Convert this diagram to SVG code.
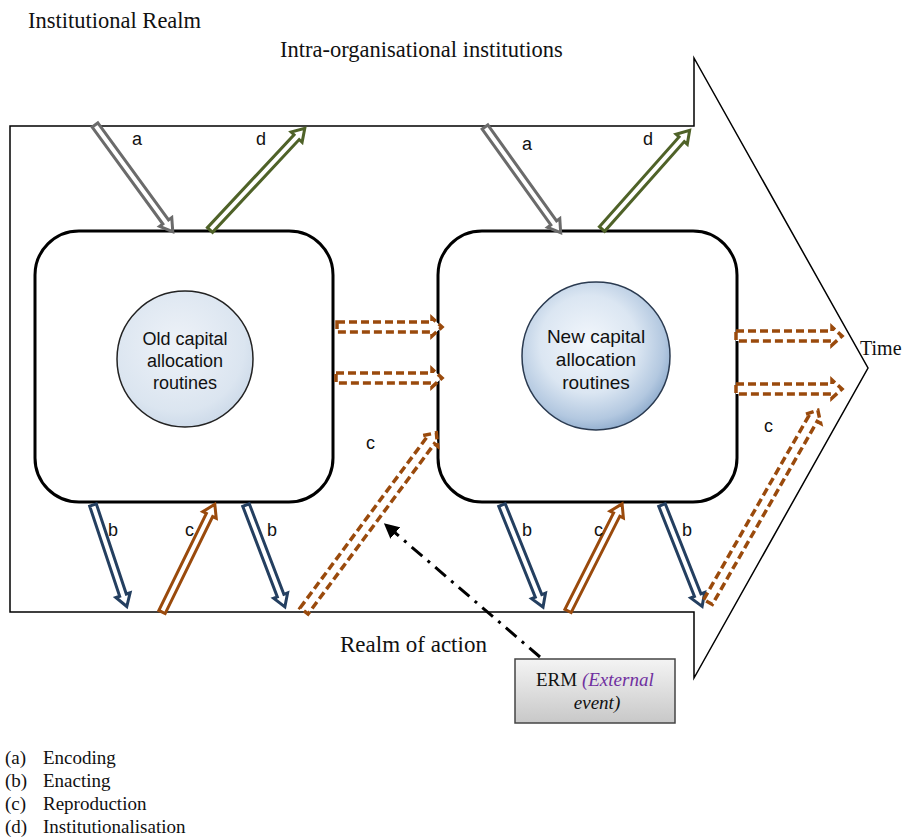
<svg xmlns="http://www.w3.org/2000/svg" width="902" height="837" viewBox="0 0 902 837">
<defs>
<style>
.serif{font-family:"Liberation Serif","Times New Roman",serif;fill:#111}
.sans{font-family:"Liberation Sans",Arial,sans-serif;fill:#111}
.lbl{font-family:"Liberation Sans",Arial,sans-serif;font-size:18px;fill:#111}
.box{fill:#fff;stroke:#000;stroke-width:3}
.ga{fill:#fff;stroke:#6b6b6b;stroke-width:3;stroke-linejoin:miter}
.gd{fill:#fff;stroke:#4f6228;stroke-width:3;stroke-linejoin:miter}
.gb{fill:#fff;stroke:#243f60;stroke-width:3;stroke-linejoin:miter}
.gc{fill:#fff;stroke:#9a4a0c;stroke-width:3;stroke-linejoin:miter}
.dc{fill:#fff;stroke:#9a4a0c;stroke-width:3.5;stroke-dasharray:8 4;stroke-linejoin:miter}
</style>
<radialGradient id="g1" cx="0.45" cy="0.4" r="0.65">
<stop offset="0" stop-color="#eef2f8"/>
<stop offset="0.75" stop-color="#dbe5f0"/>
<stop offset="1" stop-color="#c9d7e7"/>
</radialGradient>
<radialGradient id="g2" cx="0.45" cy="0.42" r="0.6">
<stop offset="0" stop-color="#f3f7fc"/>
<stop offset="0.55" stop-color="#dbe6f2"/>
<stop offset="0.85" stop-color="#b3c8e0"/>
<stop offset="1" stop-color="#8faccd"/>
</radialGradient>
<linearGradient id="g3" x1="0" y1="0" x2="0" y2="1">
<stop offset="0" stop-color="#f4f4f4"/>
<stop offset="1" stop-color="#c8c8c8"/>
</linearGradient>
<marker id="ah" viewBox="0 0 10 10" refX="2" refY="5" markerWidth="5" markerHeight="5" orient="auto">
<path d="M0,0 L10,5 L0,10 Z" fill="#000"/>
</marker>
</defs>

<g id="time-arrow">
<polygon points="10,126 694,126 694,58 868,368 694,678 694,612 10,612" fill="#fff" stroke="#000" stroke-width="1.5"/>
</g>

<g id="titles">
<text class="serif" x="28" y="28" font-size="22.5">Institutional Realm</text>
<text class="serif" x="280" y="57" font-size="22.5">Intra-organisational institutions</text>
<text class="serif" x="340" y="652" font-size="23">Realm of action</text>
<text class="serif" x="860" y="355" font-size="20">Time</text>
</g>

<g id="box-old">
<rect class="box" x="35" y="231" width="298" height="271" rx="44" ry="44"/>
<circle cx="185" cy="359" r="68" fill="url(#g1)" stroke="#222" stroke-width="1.5"/>
<text class="sans" font-size="18" text-anchor="middle"><tspan x="185" y="345">Old capital</tspan><tspan x="185" y="367">allocation</tspan><tspan x="185" y="389">routines</tspan></text>
</g>

<g id="box-new">
<rect class="box" x="438" y="231" width="299" height="271" rx="44" ry="44"/>
<circle cx="596" cy="356" r="74" fill="url(#g2)" stroke="#2a3a50" stroke-width="1.5"/>
<text class="sans" font-size="19" text-anchor="middle"><tspan x="596" y="343">New capital</tspan><tspan x="596" y="366">allocation</tspan><tspan x="596" y="389">routines</tspan></text>
</g>

<g id="erm">
<rect x="515" y="659" width="160" height="64" fill="url(#g3)" stroke="#444" stroke-width="1.5"/>
<text class="serif" font-size="19" x="536" y="686">ERM <tspan font-style="italic" fill="#7030a0">(External</tspan></text>
<text class="serif" font-size="19" x="597" y="709" text-anchor="middle" font-style="italic" fill="#7030a0">event)</text>
</g>

<g id="connectors">
<!-- a (encoding) -->
<path class="ga" transform="translate(95,125) rotate(53.9)" d="M0,-3.5 L120,-3.5 L120,-7.5 L132,0 L120,7.5 L120,3.5 L0,3.5 Z"/>
<path class="ga" transform="translate(485,127) rotate(54.4)" d="M0,-3.5 L118,-3.5 L118,-7.5 L130,0 L118,7.5 L118,3.5 L0,3.5 Z"/>
<!-- d (institutionalisation) -->
<path class="gd" transform="translate(210,230) rotate(-47)" d="M0,-3.5 L127,-3.5 L127,-7.5 L139,0 L127,7.5 L127,3.5 L0,3.5 Z"/>
<path class="gd" transform="translate(602,229) rotate(-48.4)" d="M0,-3.5 L120,-3.5 L120,-7.5 L132,0 L120,7.5 L120,3.5 L0,3.5 Z"/>
<!-- b (enacting) -->
<path class="gb" transform="translate(93,505) rotate(71.6)" d="M0,-3.5 L95,-3.5 L95,-7.5 L107,0 L95,7.5 L95,3.5 L0,3.5 Z"/>
<path class="gb" transform="translate(246,505) rotate(69.1)" d="M0,-3.5 L97,-3.5 L97,-7.5 L109,0 L97,7.5 L97,3.5 L0,3.5 Z"/>
<path class="gb" transform="translate(502,505) rotate(68.1)" d="M0,-3.5 L98,-3.5 L98,-7.5 L110,0 L98,7.5 L98,3.5 L0,3.5 Z"/>
<path class="gb" transform="translate(662,505) rotate(68.4)" d="M0,-3.5 L97,-3.5 L97,-7.5 L109,0 L97,7.5 L97,3.5 L0,3.5 Z"/>
<!-- c (reproduction) solid -->
<path class="gc" transform="translate(162,612) rotate(-63.9)" d="M0,-3.5 L108,-3.5 L108,-7.5 L120,0 L108,7.5 L108,3.5 L0,3.5 Z"/>
<path class="gc" transform="translate(568,611) rotate(-63.2)" d="M0,-3.5 L108,-3.5 L108,-7.5 L120,0 L108,7.5 L108,3.5 L0,3.5 Z"/>
<!-- c dashed -->
<path class="dc" transform="translate(337,327)" d="M0,-5 L95,-5 L95,-9 L105,0 L95,9 L95,5 L0,5 Z"/>
<path class="dc" transform="translate(336,378)" d="M0,-5 L96,-5 L96,-9 L106,0 L96,9 L96,5 L0,5 Z"/>
<path class="dc" transform="translate(736,336)" d="M0,-5 L96,-5 L96,-9 L106,0 L96,9 L96,5 L0,5 Z"/>
<path class="dc" transform="translate(736,389)" d="M0,-5 L96,-5 L96,-9 L106,0 L96,9 L96,5 L0,5 Z"/>
<path class="dc" transform="translate(304,611) rotate(-53.4)" d="M0,-5 L212,-5 L212,-9 L222,0 L212,9 L212,5 L0,5 Z"/>
<path class="dc" transform="translate(708,602) rotate(-60.2)" d="M0,-5 L211,-5 L211,-9 L221,0 L211,9 L211,5 L0,5 Z"/>
<!-- external event -->
<path d="M540,657 L393,531" fill="none" stroke="#000" stroke-width="3" stroke-dasharray="14 7 3 7" marker-end="url(#ah)"/>
</g>

<g id="labels">
<text class="lbl" x="132" y="145">a</text>
<text class="lbl" x="256" y="145">d</text>
<text class="lbl" x="522" y="150">a</text>
<text class="lbl" x="643" y="145">d</text>
<text class="lbl" x="108" y="536">b</text>
<text class="lbl" x="185" y="536">c</text>
<text class="lbl" x="267" y="536">b</text>
<text class="lbl" x="366" y="449">c</text>
<text class="lbl" x="522" y="536">b</text>
<text class="lbl" x="594" y="536">c</text>
<text class="lbl" x="682" y="536">b</text>
<text class="lbl" x="764" y="432">c</text>
</g>

<g id="legend" class="serif" font-size="19">
<text x="5" y="764">(a)</text><text x="43" y="764">Encoding</text>
<text x="5" y="787">(b)</text><text x="43" y="787">Enacting</text>
<text x="5" y="810">(c)</text><text x="43" y="810">Reproduction</text>
<text x="5" y="833">(d)</text><text x="43" y="833">Institutionalisation</text>
</g>
</svg>
